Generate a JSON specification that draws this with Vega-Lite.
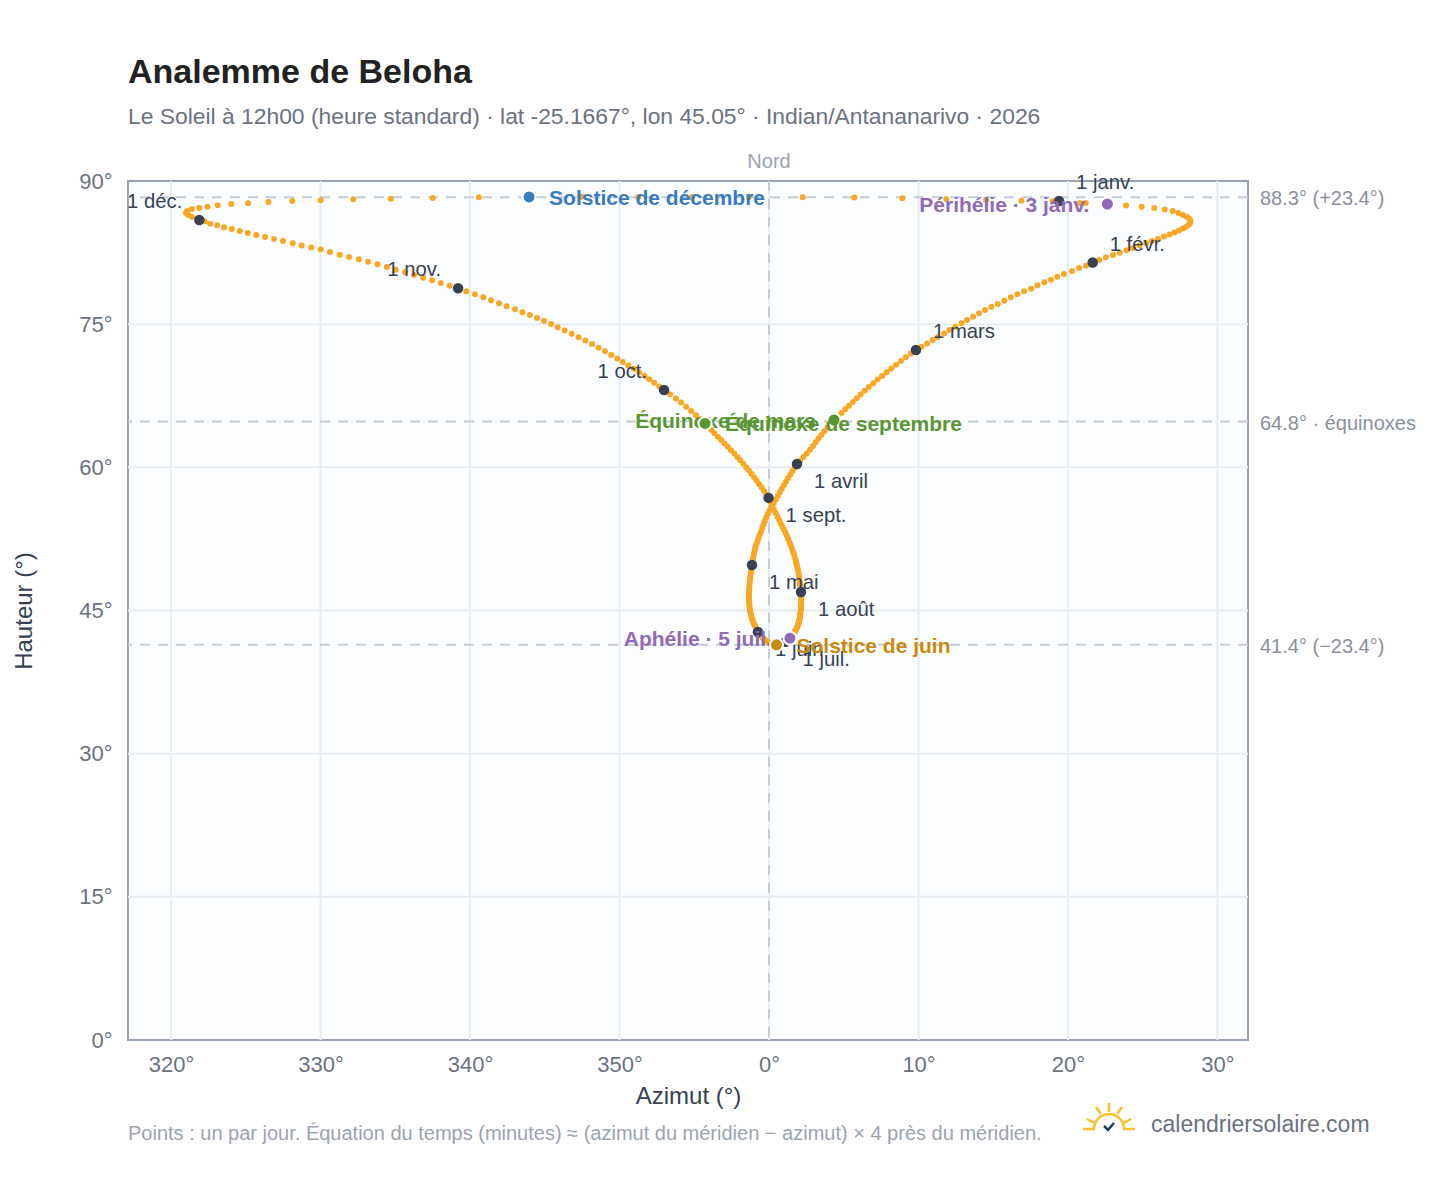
{
  "$schema": "https://vega.github.io/schema/vega-lite/v6.json",
  "width": 1120,
  "height": 859,
  "autosize": {"type": "none"},
  "padding": {"left": 128, "top": 181, "right": 200, "bottom": 148},
  "background": "white",
  "view": {"fill": "#fbfdff", "stroke": "#98a4b3", "strokeWidth": 2},
  "config": {"font": "Liberation Sans"},
  "title": {
    "text": "Analemme de Beloha",
    "subtitle": "Le Soleil à 12h00 (heure standard) · lat -25.1667°, lon 45.05° · Indian/Antananarivo · 2026",
    "anchor": "start",
    "frame": "group",
    "fontSize": 34,
    "fontWeight": "bold",
    "color": "#222222",
    "subtitleFontSize": 22.85,
    "subtitleColor": "#6b7280",
    "subtitlePadding": 16,
    "offset": 23
  },
  "datasets": {
    "jours": [
      {"az":19.40,"h":87.91},{"az":21.18,"h":87.70},{"az":22.63,"h":87.59},{"az":23.88,"h":87.42},{"az":24.93,"h":87.31},{"az":25.77,"h":87.18},{"az":26.47,"h":87.02},{"az":27.00,"h":86.86},{"az":27.38,"h":86.65},{"az":27.69,"h":86.44},{"az":27.96,"h":86.23},{"az":28.13,"h":86.02},{"az":28.19,"h":85.81},{"az":28.16,"h":85.60},{"az":28.06,"h":85.39},{"az":27.89,"h":85.18},{"az":27.69,"h":85.03},{"az":27.42,"h":84.82},{"az":27.12,"h":84.61},{"az":26.79,"h":84.40},{"az":26.42,"h":84.19},{"az":26.02,"h":83.93},{"az":25.62,"h":83.72},{"az":25.22,"h":83.51},{"az":24.78,"h":83.25},{"az":24.35,"h":82.98},{"az":23.91,"h":82.74},{"az":23.46,"h":82.49},{"az":23.01,"h":82.25},{"az":22.54,"h":82.01},{"az":22.09,"h":81.73},
      {"az":21.65,"h":81.46},{"az":21.20,"h":81.13},{"az":20.74,"h":80.89},{"az":20.27,"h":80.57},{"az":19.73,"h":80.26},{"az":19.28,"h":79.98},{"az":18.86,"h":79.66},{"az":18.41,"h":79.39},{"az":17.95,"h":79.08},{"az":17.53,"h":78.72},{"az":17.06,"h":78.45},{"az":16.61,"h":78.13},{"az":16.17,"h":77.82},{"az":15.74,"h":77.46},{"az":15.30,"h":77.12},{"az":14.87,"h":76.83},{"az":14.45,"h":76.49},{"az":14.05,"h":76.14},{"az":13.65,"h":75.79},{"az":13.24,"h":75.44},{"az":12.88,"h":75.09},{"az":12.47,"h":74.74},{"az":12.07,"h":74.39},{"az":11.71,"h":74.03},{"az":11.30,"h":73.66},{"az":10.94,"h":73.34},{"az":10.57,"h":72.98},{"az":10.20,"h":72.64},
      {"az":9.83,"h":72.30},{"az":9.49,"h":71.92},{"az":9.15,"h":71.53},{"az":8.82,"h":71.14},{"az":8.50,"h":70.75},{"az":8.18,"h":70.36},{"az":7.87,"h":69.97},{"az":7.56,"h":69.58},{"az":7.26,"h":69.19},{"az":6.97,"h":68.80},{"az":6.68,"h":68.41},{"az":6.40,"h":68.02},{"az":6.13,"h":67.63},{"az":5.87,"h":67.24},{"az":5.61,"h":66.85},{"az":5.35,"h":66.46},{"az":5.10,"h":66.08},{"az":4.85,"h":65.70},{"az":4.60,"h":65.33},{"az":4.35,"h":64.96},{"az":4.12,"h":64.57},{"az":3.90,"h":64.18},{"az":3.70,"h":63.79},{"az":3.50,"h":63.40},{"az":3.31,"h":63.01},{"az":3.12,"h":62.62},{"az":2.94,"h":62.23},{"az":2.74,"h":61.84},{"az":2.52,"h":61.46},{"az":2.30,"h":61.08},{"az":2.08,"h":60.70},
      {"az":1.87,"h":60.35},{"az":1.72,"h":59.98},{"az":1.57,"h":59.61},{"az":1.43,"h":59.24},{"az":1.28,"h":58.87},{"az":1.13,"h":58.50},{"az":0.99,"h":58.12},{"az":0.85,"h":57.75},{"az":0.72,"h":57.38},{"az":0.59,"h":57.00},{"az":0.45,"h":56.62},{"az":0.31,"h":56.24},{"az":0.17,"h":55.86},{"az":0.03,"h":55.48},{"az":-0.09,"h":55.10},{"az":-0.19,"h":54.74},{"az":-0.28,"h":54.38},{"az":-0.37,"h":54.02},{"az":-0.45,"h":53.66},{"az":-0.53,"h":53.30},{"az":-0.61,"h":52.97},{"az":-0.69,"h":52.65},{"az":-0.76,"h":52.33},{"az":-0.83,"h":52.01},{"az":-0.90,"h":51.69},{"az":-0.95,"h":51.37},{"az":-0.99,"h":51.05},{"az":-1.03,"h":50.73},{"az":-1.07,"h":50.41},{"az":-1.11,"h":50.09},
      {"az":-1.14,"h":49.77},{"az":-1.17,"h":49.47},{"az":-1.20,"h":49.17},{"az":-1.22,"h":48.87},{"az":-1.25,"h":48.58},{"az":-1.27,"h":48.28},{"az":-1.29,"h":47.98},{"az":-1.31,"h":47.68},{"az":-1.32,"h":47.39},{"az":-1.33,"h":47.10},{"az":-1.34,"h":46.84},{"az":-1.34,"h":46.59},{"az":-1.34,"h":46.34},{"az":-1.34,"h":46.10},{"az":-1.33,"h":45.87},{"az":-1.32,"h":45.64},{"az":-1.31,"h":45.41},{"az":-1.29,"h":45.19},{"az":-1.27,"h":44.98},{"az":-1.24,"h":44.78},{"az":-1.21,"h":44.58},{"az":-1.18,"h":44.38},{"az":-1.14,"h":44.20},{"az":-1.11,"h":44.02},{"az":-1.07,"h":43.84},{"az":-1.03,"h":43.67},{"az":-0.98,"h":43.51},{"az":-0.93,"h":43.35},{"az":-0.88,"h":43.20},{"az":-0.83,"h":43.05},{"az":-0.79,"h":42.90},
      {"az":-0.74,"h":42.75},{"az":-0.68,"h":42.62},{"az":-0.62,"h":42.50},{"az":-0.56,"h":42.38},{"az":-0.50,"h":42.27},{"az":-0.44,"h":42.17},{"az":-0.38,"h":42.07},{"az":-0.32,"h":41.98},{"az":-0.26,"h":41.89},{"az":-0.20,"h":41.81},{"az":-0.14,"h":41.74},{"az":-0.08,"h":41.67},{"az":-0.02,"h":41.61},{"az":0.04,"h":41.56},{"az":0.10,"h":41.52},{"az":0.16,"h":41.48},{"az":0.22,"h":41.45},{"az":0.29,"h":41.43},{"az":0.36,"h":41.41},{"az":0.43,"h":41.40},{"az":0.50,"h":41.40},{"az":0.56,"h":41.40},{"az":0.62,"h":41.41},{"az":0.69,"h":41.43},{"az":0.75,"h":41.45},{"az":0.81,"h":41.48},{"az":0.87,"h":41.52},{"az":0.93,"h":41.56},{"az":0.99,"h":41.61},{"az":1.05,"h":41.66},
      {"az":1.11,"h":41.72},{"az":1.17,"h":41.79},{"az":1.24,"h":41.87},{"az":1.30,"h":41.95},{"az":1.36,"h":42.04},{"az":1.42,"h":42.14},{"az":1.48,"h":42.25},{"az":1.54,"h":42.36},{"az":1.60,"h":42.47},{"az":1.66,"h":42.60},{"az":1.71,"h":42.73},{"az":1.76,"h":42.87},{"az":1.81,"h":43.01},{"az":1.86,"h":43.16},{"az":1.90,"h":43.32},{"az":1.94,"h":43.49},{"az":1.97,"h":43.66},{"az":2.00,"h":43.83},{"az":2.03,"h":44.01},{"az":2.05,"h":44.20},{"az":2.07,"h":44.39},{"az":2.09,"h":44.59},{"az":2.10,"h":44.79},{"az":2.12,"h":44.99},{"az":2.13,"h":45.20},{"az":2.14,"h":45.42},{"az":2.15,"h":45.64},{"az":2.15,"h":45.90},{"az":2.15,"h":46.15},{"az":2.15,"h":46.40},{"az":2.15,"h":46.67},
      {"az":2.14,"h":46.94},{"az":2.12,"h":47.21},{"az":2.10,"h":47.48},{"az":2.08,"h":47.76},{"az":2.05,"h":48.04},{"az":2.03,"h":48.32},{"az":2.01,"h":48.60},{"az":1.98,"h":48.89},{"az":1.94,"h":49.18},{"az":1.90,"h":49.47},{"az":1.86,"h":49.76},{"az":1.81,"h":50.06},{"az":1.77,"h":50.36},{"az":1.71,"h":50.66},{"az":1.65,"h":50.96},{"az":1.58,"h":51.26},{"az":1.51,"h":51.57},{"az":1.44,"h":51.88},{"az":1.36,"h":52.19},{"az":1.28,"h":52.50},{"az":1.19,"h":52.82},{"az":1.10,"h":53.14},{"az":1.00,"h":53.46},{"az":0.90,"h":53.78},{"az":0.79,"h":54.10},{"az":0.68,"h":54.48},{"az":0.56,"h":54.86},{"az":0.44,"h":55.24},{"az":0.32,"h":55.62},{"az":0.20,"h":56.00},{"az":0.08,"h":56.40},
      {"az":-0.03,"h":56.80},{"az":-0.17,"h":57.16},{"az":-0.33,"h":57.52},{"az":-0.49,"h":57.88},{"az":-0.66,"h":58.24},{"az":-0.83,"h":58.60},{"az":-1.00,"h":58.96},{"az":-1.17,"h":59.31},{"az":-1.35,"h":59.66},{"az":-1.53,"h":60.01},{"az":-1.72,"h":60.37},{"az":-1.92,"h":60.73},{"az":-2.12,"h":61.08},{"az":-2.33,"h":61.44},{"az":-2.54,"h":61.79},{"az":-2.76,"h":62.15},{"az":-2.98,"h":62.50},{"az":-3.20,"h":62.86},{"az":-3.42,"h":63.21},{"az":-3.65,"h":63.56},{"az":-3.86,"h":63.91},{"az":-4.07,"h":64.26},{"az":-4.28,"h":64.60},{"az":-4.58,"h":65.03},{"az":-4.89,"h":65.47},{"az":-5.21,"h":65.91},{"az":-5.54,"h":66.35},{"az":-5.88,"h":66.79},{"az":-6.23,"h":67.22},{"az":-6.62,"h":67.66},
      {"az":-7.02,"h":68.10},{"az":-7.35,"h":68.47},{"az":-7.68,"h":68.85},{"az":-8.01,"h":69.22},{"az":-8.33,"h":69.60},{"az":-8.69,"h":69.96},{"az":-9.05,"h":70.32},{"az":-9.41,"h":70.68},{"az":-9.78,"h":71.04},{"az":-10.15,"h":71.40},{"az":-10.56,"h":71.78},{"az":-10.98,"h":72.16},{"az":-11.40,"h":72.54},{"az":-11.84,"h":72.92},{"az":-12.28,"h":73.30},{"az":-12.74,"h":73.64},{"az":-13.20,"h":73.99},{"az":-13.67,"h":74.33},{"az":-14.14,"h":74.68},{"az":-14.58,"h":75.02},{"az":-15.05,"h":75.33},{"az":-15.52,"h":75.64},{"az":-16.00,"h":75.95},{"az":-16.49,"h":76.25},{"az":-16.99,"h":76.56},{"az":-17.55,"h":76.88},{"az":-18.06,"h":77.19},{"az":-18.60,"h":77.50},{"az":-19.11,"h":77.82},{"az":-19.67,"h":78.13},{"az":-20.25,"h":78.45},
      {"az":-20.80,"h":78.76},{"az":-21.36,"h":79.03},{"az":-21.96,"h":79.32},{"az":-22.54,"h":79.60},{"az":-23.14,"h":79.87},{"az":-23.75,"h":80.16},{"az":-24.35,"h":80.44},{"az":-24.97,"h":80.71},{"az":-25.57,"h":80.99},{"az":-26.20,"h":81.28},{"az":-26.82,"h":81.55},{"az":-27.44,"h":81.80},{"az":-28.09,"h":82.04},{"az":-28.72,"h":82.28},{"az":-29.37,"h":82.56},{"az":-29.99,"h":82.81},{"az":-30.62,"h":83.02},{"az":-31.26,"h":83.23},{"az":-31.86,"h":83.48},{"az":-32.51,"h":83.72},{"az":-33.11,"h":83.93},{"az":-33.71,"h":84.14},{"az":-34.29,"h":84.35},{"az":-34.87,"h":84.56},{"az":-35.40,"h":84.77},{"az":-35.94,"h":84.98},{"az":-36.45,"h":85.15},{"az":-36.92,"h":85.36},{"az":-37.39,"h":85.53},{"az":-37.75,"h":85.78},
      {"az":-38.11,"h":85.92},{"az":-38.60,"h":86.23},{"az":-38.86,"h":86.44},{"az":-39.00,"h":86.65},{"az":-38.93,"h":86.86},{"az":-38.60,"h":87.07},{"az":-38.11,"h":87.18},{"az":-37.57,"h":87.31},{"az":-36.88,"h":87.46},{"az":-35.97,"h":87.59},{"az":-34.85,"h":87.67},{"az":-33.49,"h":87.80},{"az":-31.89,"h":87.91},{"az":-29.99,"h":87.98},{"az":-27.81,"h":88.09},{"az":-25.30,"h":88.15},{"az":-22.49,"h":88.22},{"az":-19.42,"h":88.30},{"az":-16.05,"h":88.33},{"az":-12.53,"h":88.36},{"az":-8.76,"h":88.33},{"az":-5.15,"h":88.33},{"az":-1.34,"h":88.33},{"az":2.25,"h":88.30},{"az":5.71,"h":88.26},{"az":8.92,"h":88.19},{"az":11.86,"h":88.12},{"az":14.52,"h":88.02},{"az":16.88,"h":87.94},{"az":18.98,"h":87.88},{"az":20.80,"h":87.70}
    ],
    "mois": [
      {"az":19.40,"h":87.91,"t":"1 janv."},
      {"az":21.65,"h":81.46,"t":"1 févr."},
      {"az":9.83,"h":72.30,"t":"1 mars"},
      {"az":1.87,"h":60.35,"t":"1 avril"},
      {"az":-1.14,"h":49.77,"t":"1 mai"},
      {"az":-0.74,"h":42.75,"t":"1 juin"},
      {"az":1.11,"h":41.72,"t":"1 juil."},
      {"az":2.14,"h":46.94,"t":"1 août"},
      {"az":-0.03,"h":56.80,"t":"1 sept."},
      {"az":-7.02,"h":68.10,"t":"1 oct."},
      {"az":-20.80,"h":78.76,"t":"1 nov."},
      {"az":-38.11,"h":85.92,"t":"1 déc."}
    ],
    "evts": [
      {"az":22.63,"h":87.59,"t":"Périhélie · 3 janv.","k":"perihelie","cote":"fin"},
      {"az":4.35,"h":64.96,"t":"Équinoxe de mars","k":"equinoxe","cote":"fin"},
      {"az":1.40,"h":42.10,"t":"Aphélie · 5 juil.","k":"perihelie","cote":"fin"},
      {"az":0.50,"h":41.40,"t":"Solstice de juin","k":"juin","cote":"debut"},
      {"az":-4.28,"h":64.60,"t":"Équinoxe de septembre","k":"equinoxe","cote":"debut"},
      {"az":-16.05,"h":88.33,"t":"Solstice de décembre","k":"decembre","cote":"debut"}
    ],
    "niveaux": [
      {"h":88.3,"t":"88.3° (+23.4°)"},
      {"h":64.8,"t":"64.8° · équinoxes"},
      {"h":41.4,"t":"41.4° (−23.4°)"}
    ],
    "grilleY": [{"h":15},{"h":30},{"h":45},{"h":60},{"h":75}],
    "grilleX": [{"az":-40},{"az":-30},{"az":-20},{"az":-10},{"az":0},{"az":10},{"az":20},{"az":30}]
  },
  "layer": [
    {
      "data": {"name": "grilleY"},
      "mark": {"type": "rule", "color": "#e8edf3", "strokeWidth": 2},
      "encoding": {
        "y": {
          "field": "h",
          "type": "quantitative",
          "scale": {"domain": [0, 90], "nice": false, "zero": false},
          "title": "Hauteur (°)",
          "axis": {
            "values": [0, 15, 30, 45, 60, 75, 90],
            "labelExpr": "datum.value + '°'",
            "grid": false,
            "ticks": false,
            "domain": false,
            "labelColor": "#6b7280",
            "labelFontSize": 22,
            "labelPadding": 16,
            "titleColor": "#374151",
            "titleFontSize": 24,
            "titleFontWeight": "normal",
            "titlePadding": 42
          }
        }
      }
    },
    {
      "data": {"name": "grilleX"},
      "mark": {"type": "rule", "color": "#e8edf3", "strokeWidth": 2},
      "encoding": {
        "x": {
          "field": "az",
          "type": "quantitative",
          "scale": {"domain": [-42.88, 32.04], "nice": false, "zero": false},
          "title": "Azimut (°)",
          "axis": {
            "values": [-40, -30, -20, -10, 0, 10, 20, 30],
            "labelExpr": "(datum.value < 0 ? 360 + datum.value : datum.value) + '°'",
            "grid": false,
            "ticks": false,
            "domain": false,
            "labelColor": "#6b7280",
            "labelFontSize": 22,
            "labelPadding": 14,
            "titleColor": "#374151",
            "titleFontSize": 24,
            "titleFontWeight": "normal",
            "titlePadding": 9
          }
        }
      }
    },
    {
      "data": {"name": "niveaux"},
      "mark": {"type": "rule", "color": "#c3ced9", "strokeWidth": 2, "strokeDash": [10, 8]},
      "encoding": {
        "y": {"field": "h", "type": "quantitative"}
      }
    },
    {
      "data": {"values": [{"az": 0}]},
      "mark": {"type": "rule", "color": "#c3ced9", "strokeWidth": 2, "strokeDash": [10, 8]},
      "encoding": {
        "x": {"field": "az", "type": "quantitative"}
      }
    },
    {
      "data": {"name": "niveaux"},
      "mark": {"type": "text", "align": "left", "baseline": "middle", "dx": 12, "dy": 2, "fontSize": 20, "color": "#8a919c"},
      "encoding": {
        "x": {"datum": 32.04},
        "y": {"field": "h", "type": "quantitative"},
        "text": {"field": "t"}
      }
    },
    {
      "data": {"values": [{"t": "Nord"}]},
      "mark": {"type": "text", "align": "center", "baseline": "middle", "dy": -19, "fontSize": 20, "color": "#9ca3af"},
      "encoding": {
        "x": {"datum": 0},
        "y": {"datum": 90},
        "text": {"field": "t"}
      }
    },
    {
      "data": {"name": "jours"},
      "mark": {"type": "circle", "size": 36, "color": "#f9a825", "opacity": 1},
      "encoding": {
        "x": {"field": "az", "type": "quantitative"},
        "y": {"field": "h", "type": "quantitative"}
      }
    },
    {
      "data": {"name": "mois"},
      "transform": [{"filter": "datum.az >= 2.5"}],
      "mark": {"type": "text", "align": "left", "baseline": "middle", "dx": 17, "dy": -18, "fontSize": 20.3, "color": "#374151"},
      "encoding": {
        "x": {"field": "az", "type": "quantitative"},
        "y": {"field": "h", "type": "quantitative"},
        "text": {"field": "t"}
      }
    },
    {
      "data": {"name": "mois"},
      "transform": [{"filter": "datum.az >= -2 && datum.az < 2.5"}],
      "mark": {"type": "text", "align": "left", "baseline": "middle", "dx": 17, "dy": 18, "fontSize": 20.3, "color": "#374151"},
      "encoding": {
        "x": {"field": "az", "type": "quantitative"},
        "y": {"field": "h", "type": "quantitative"},
        "text": {"field": "t"}
      }
    },
    {
      "data": {"name": "mois"},
      "transform": [{"filter": "datum.az < -2"}],
      "mark": {"type": "text", "align": "right", "baseline": "middle", "dx": -17, "dy": -18, "fontSize": 20.3, "color": "#374151"},
      "encoding": {
        "x": {"field": "az", "type": "quantitative"},
        "y": {"field": "h", "type": "quantitative"},
        "text": {"field": "t"}
      }
    },
    {
      "data": {"name": "mois"},
      "mark": {"type": "circle", "size": 110, "color": "#374151", "opacity": 1},
      "encoding": {
        "x": {"field": "az", "type": "quantitative"},
        "y": {"field": "h", "type": "quantitative"}
      }
    },
    {
      "data": {"name": "evts"},
      "transform": [{"filter": "datum.cote == 'fin'"}],
      "mark": {"type": "text", "align": "right", "baseline": "middle", "dx": -18, "dy": 2, "fontSize": 21, "fontWeight": "bold"},
      "encoding": {
        "x": {"field": "az", "type": "quantitative"},
        "y": {"field": "h", "type": "quantitative"},
        "text": {"field": "t"},
        "color": {
          "field": "k",
          "type": "nominal",
          "legend": null,
          "scale": {"domain": ["perihelie", "equinoxe", "juin", "decembre"], "range": ["#8f6bb5", "#5a9632", "#ca8a0e", "#3a7abd"]}
        }
      }
    },
    {
      "data": {"name": "evts"},
      "mark": {"type": "circle", "size": 169, "opacity": 1, "stroke": "white", "strokeWidth": 2},
      "encoding": {
        "x": {"field": "az", "type": "quantitative"},
        "y": {"field": "h", "type": "quantitative"},
        "color": {"field": "k", "type": "nominal", "legend": null}
      }
    },
    {
      "data": {"name": "evts"},
      "transform": [{"filter": "datum.cote == 'debut'"}],
      "mark": {"type": "text", "align": "left", "baseline": "middle", "dx": 20, "dy": 2, "fontSize": 21, "fontWeight": "bold"},
      "encoding": {
        "x": {"field": "az", "type": "quantitative"},
        "y": {"field": "h", "type": "quantitative"},
        "text": {"field": "t"},
        "color": {"field": "k", "type": "nominal", "legend": null}
      }
    },
    {
      "data": {"values": [{"t": "Points : un par jour. Équation du temps (minutes) ≈ (azimut du méridien − azimut) × 4 près du méridien."}]},
      "mark": {"type": "text", "align": "left", "baseline": "middle", "dy": 94, "fontSize": 20, "color": "#9ca3af"},
      "encoding": {
        "x": {"datum": -42.88},
        "y": {"datum": 0},
        "text": {"field": "t"}
      }
    },
    {
      "data": {"values": [{"t": "calendriersolaire.com"}]},
      "mark": {"type": "text", "align": "left", "baseline": "middle", "fontSize": 23, "color": "#6b7280"},
      "encoding": {
        "x": {"datum": 25.55},
        "y": {"datum": -8.9},
        "text": {"field": "t"}
      }
    },
    {
      "data": {"values": [{"logo": "soleil"}]},
      "mark": {
        "type": "point",
        "filled": false,
        "opacity": 1,
        "size": 2704,
        "stroke": "#fbc02d",
        "strokeWidth": 2.5,
        "shape": "M-1 .423L-.577 .423A.577 .577 0 0 1 .577 .423L1 .423M0 -.577L0 -.23M-.5 -.423L-.31 -.154M.5 -.423L.31 -.154M-.846 .038L-.577 .192M.846 .038L.577 .192"
      },
      "encoding": {
        "x": {"datum": 22.74},
        "y": {"datum": -8.17}
      }
    },
    {
      "data": {"values": [{"logo": "coche"}]},
      "mark": {
        "type": "point",
        "filled": false,
        "opacity": 1,
        "size": 2704,
        "stroke": "#1f3b57",
        "strokeWidth": 2.5,
        "shape": "M-.192 .308L-.038 .462L.192 .192"
      },
      "encoding": {
        "x": {"datum": 22.74},
        "y": {"datum": -8.17}
      }
    }
  ]
}
